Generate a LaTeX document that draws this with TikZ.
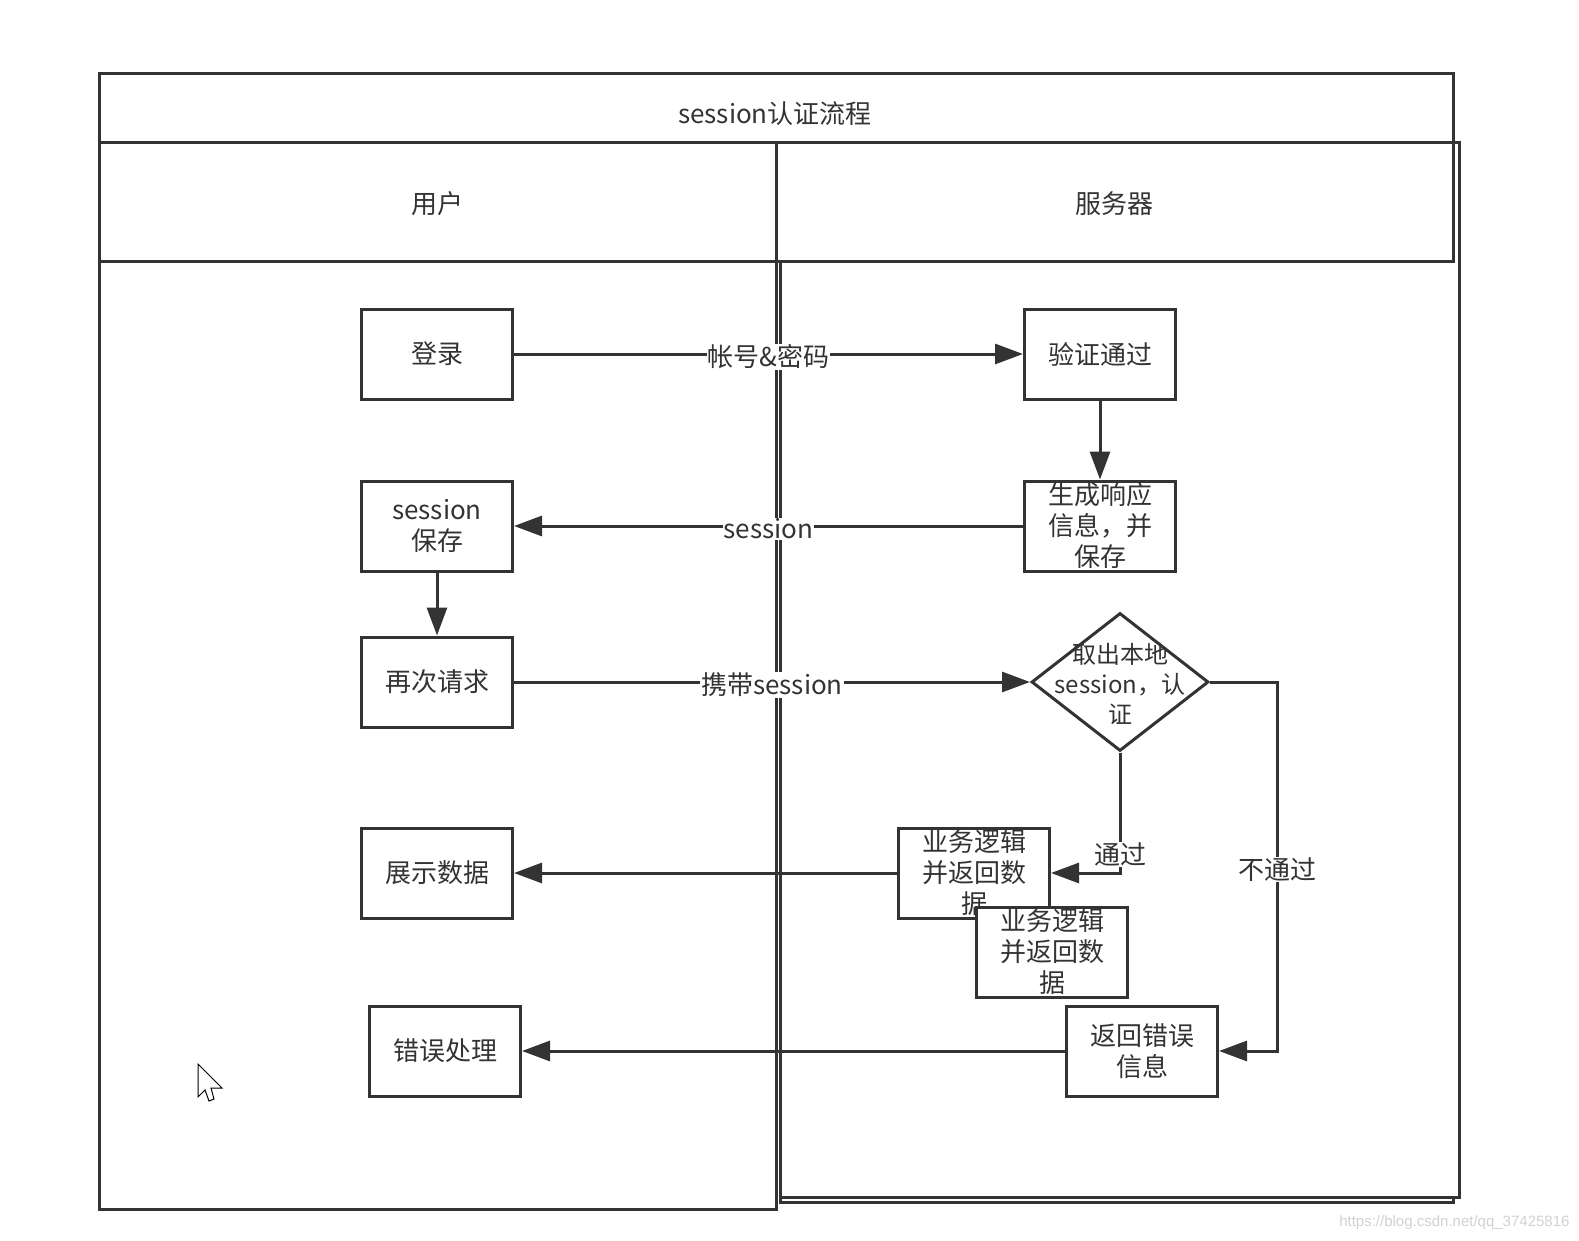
\documentclass[tikz,border=0pt]{standalone}
\usepackage{fontspec}
\setmainfont{Noto Sans CJK SC}
\newfontfamily\markfont{Liberation Sans}
\usepackage{tikz}
\usetikzlibrary{positioning, arrows.meta, shapes.geometric}
\usepackage{xcolor}
\definecolor{ink}{HTML}{333333}

\begin{document}
\begin{tikzpicture}[
    x=1pt, y=-1pt,
    darkline/.style={draw=ink, line width=3pt},
    box/.style={rectangle, darkline, fill=white, text=ink, minimum width=151pt, minimum height=90pt, inner sep=0pt, align=center, font=\fontsize{26}{31}\selectfont},
    decision/.style={diamond, darkline, fill=white, minimum width=177pt, minimum height=138pt, inner sep=0pt},
    heading/.style={text=ink, font=\fontsize{26}{30}\selectfont},
    lbl/.style={fill=white, text=ink, inner sep=1pt, yshift=-3pt, font=\fontsize{26}{30}\selectfont},
    arrow/.style={-{Triangle[length=28pt, width=20pt]}, darkline}
]
\useasboundingbox (0,0) rectangle (1579,1241);

% Lanes
\draw [darkline] (99,74) rectangle (1453,143);
\draw [darkline] (99,143) rectangle (776,1209);
\draw [darkline] (99,262) -- (776,262);
\draw [darkline] (776,143) rectangle (1453,262);
\draw [darkline] (1453,143) -- (1459,143) -- (1459,1197) -- (780,1197);
\draw [darkline] (780,262) -- (780,1202) -- (1453,1202) -- (1453,1197);

\node (title) [heading] at (775,114) {session认证流程};
\node (user) [heading] at (437,204) {用户};
\node (server) [heading] at (1114,204) {服务器};

% Login
\node (login) [box] at (437,354) {登录};
\node (verify) [box] at (1100,354) {验证通过};
\node (gen) [box] at (1100,526) {生成响应\\信息，并\\保存};
\node (save) [box] at (437,526) {session\\保存};

% Next request
\node (again) [box] at (437,682) {再次请求};
\node (chk) [decision] at (1120,682) {};
\node (chktext) [text=ink, align=center, font=\fontsize{24}{30}\selectfont] at (1120,684) {取出本地\\session，认\\证};

% Results
\node (show) [box] at (437,873) {展示数据};
\node (biz) [box] at (974,873) {业务逻辑\\并返回数\\据};
\node (bizcopy) [box] at (1052,952) {业务逻辑\\并返回数\\据};
\node (fail) [box] at (445,1051) {错误处理};
\node (errinfo) [box] at (1142,1051) {返回错误\\信息};

% Connecting Arrows
\draw [arrow] (login) -- (verify) node[midway, lbl] {帐号\&密码};
\draw [arrow] (verify) -- (gen);
\draw [arrow] (gen) -- (save) node[midway, lbl] {session};
\draw [arrow] (save) -- (again);
\draw [arrow] (again) -- (chk) node[midway, lbl] {携带session};
\draw [arrow] (chk.south) |- (biz.east) node[pos=0.41, lbl] {通过};
\coordinate (rail) at (1277,682);
\draw [arrow] (chk.east) -- (rail) |- (errinfo.east) node[pos=0.25, lbl] {不通过};
\draw [arrow] (biz) -- (show);
\draw [arrow] (errinfo) -- (fail);

% Pointer
\draw [black, line width=1pt, fill=white] (198,1064) -- (198,1097) -- (205,1090) -- (209,1101) -- (214,1099) -- (211,1088) -- (222,1088) -- cycle;

\node (mark) [anchor=east, text=black!18, font=\markfont\fontsize{15}{18}\selectfont] at (1573,1223) {https://blog.csdn.net/qq\_37425816};
\end{tikzpicture}
\end{document}
